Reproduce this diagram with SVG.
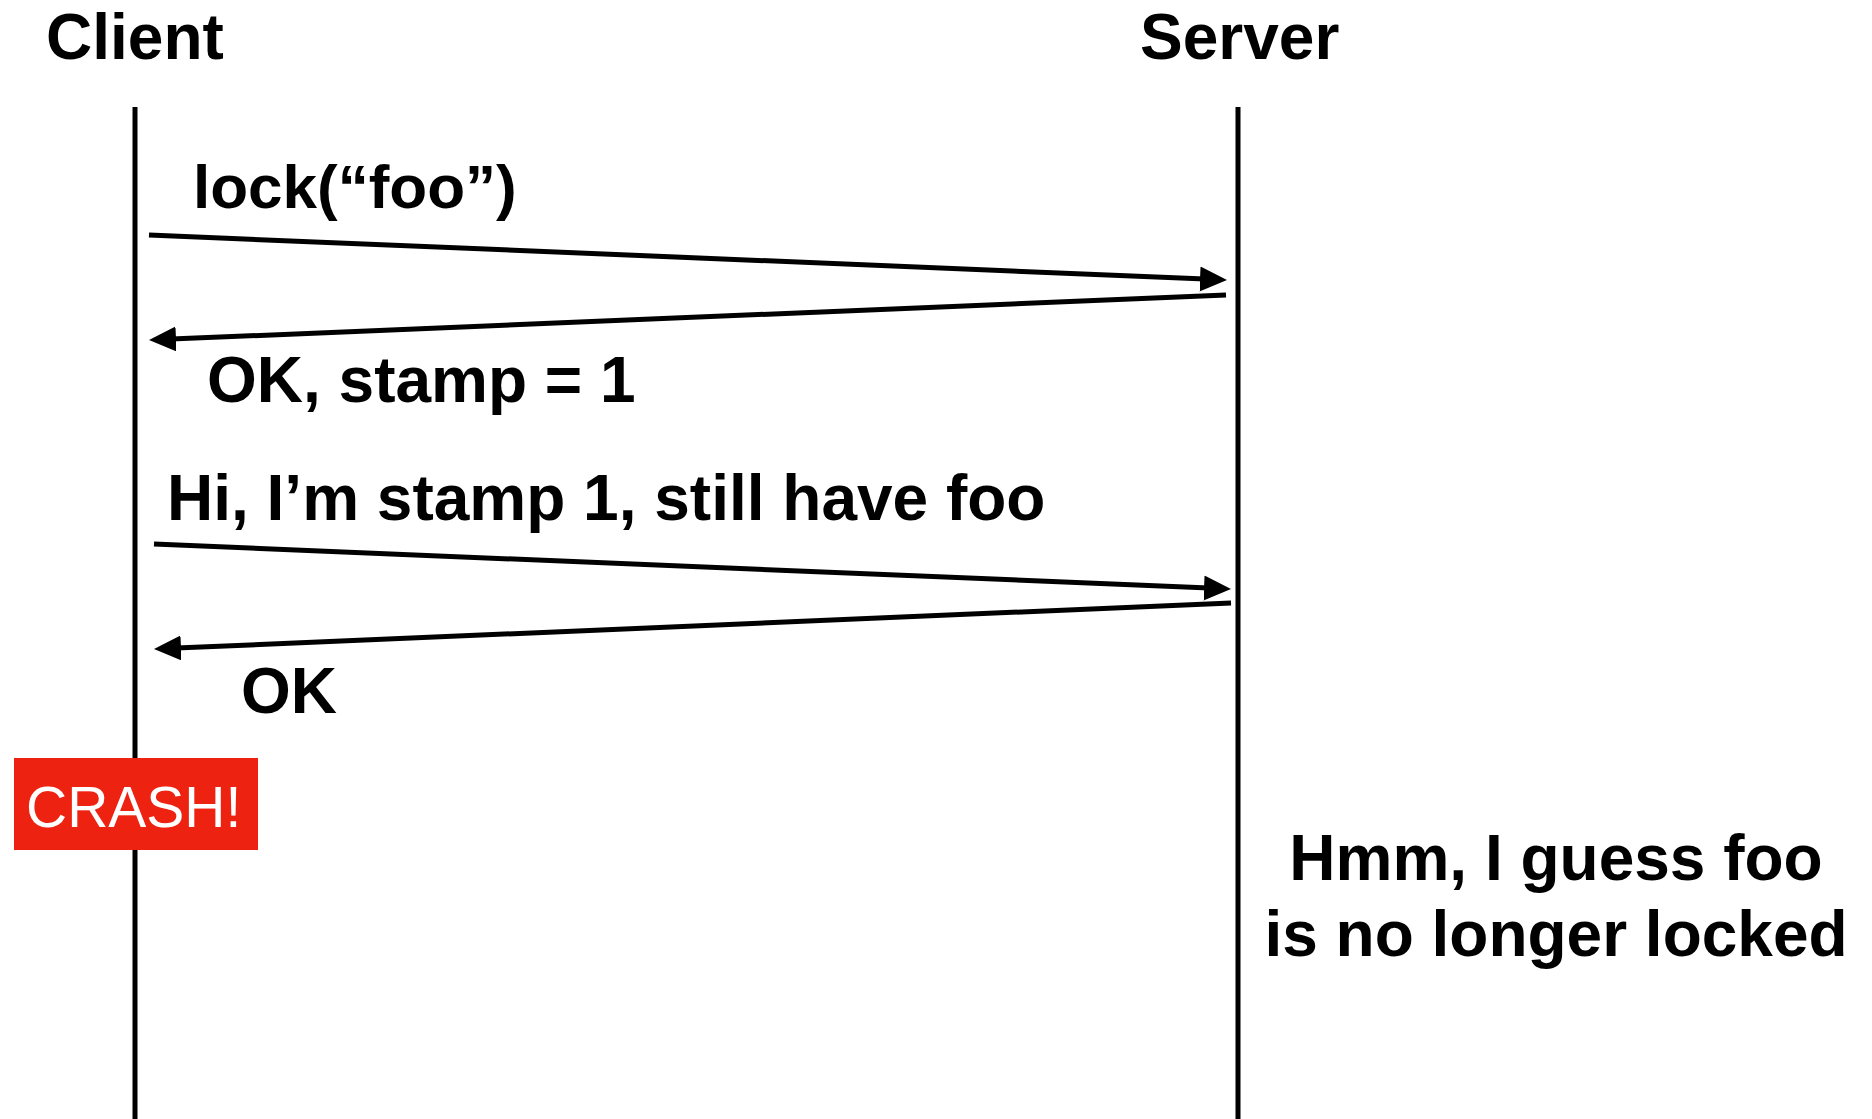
<svg xmlns="http://www.w3.org/2000/svg" width="1872" height="1119" viewBox="0 0 1872 1119">
<style>
.lbl{font-family:"Liberation Sans",Arial,sans-serif;font-weight:bold;font-size:64px;fill:#000}
.life{stroke:#000;stroke-width:5;fill:none}
.msg{stroke:#000;stroke-width:5;fill:none;marker-end:url(#ah)}
.crash{font-family:"Liberation Sans",Arial,sans-serif;font-size:57px;fill:#fff}
</style>
<defs>
<marker id="ah" markerUnits="userSpaceOnUse" markerWidth="30" markerHeight="28" refX="17" refY="12.5" orient="auto">
<path d="M0,0 L27,12.5 L0,25 Z" fill="#000"/>
</marker>
</defs>
<rect width="1872" height="1119" fill="#fff"/>
<g id="client">
<text class="lbl" x="46" y="59">Client</text>
<line class="life" x1="135" y1="107" x2="135" y2="1119"/>
</g>
<g id="server">
<text class="lbl" x="1140" y="59">Server</text>
<line class="life" x1="1238" y1="107" x2="1238" y2="1119"/>
</g>
<g id="connectors">
<line class="msg" x1="149" y1="235" x2="1217" y2="279.6"/>
<line class="msg" x1="1226" y1="295" x2="159" y2="339.6"/>
<line class="msg" x1="154" y1="544" x2="1221" y2="588.6"/>
<line class="msg" x1="1231" y1="603" x2="164" y2="648.6"/>
</g>
<g id="labels">
<text class="lbl" x="193" y="208" style="font-size:62px">lock(“foo”)</text>
<text class="lbl" x="207" y="402">OK, stamp = 1</text>
<text class="lbl" x="167" y="520">Hi, I’m stamp 1, still have foo</text>
<text class="lbl" x="241" y="713">OK</text>
</g>
<g id="crash">
<rect x="14" y="758" width="244" height="92" fill="#EE2211"/>
<text class="crash" x="26" y="827">CRASH!</text>
</g>
<g id="note">
<text class="lbl" x="1556" y="880" text-anchor="middle">Hmm, I guess foo</text>
<text class="lbl" x="1556" y="956" text-anchor="middle">is no longer locked</text>
</g>
</svg>
